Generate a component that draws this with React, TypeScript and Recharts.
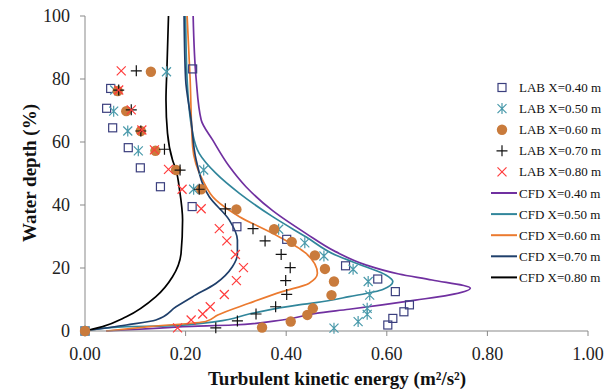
import React from "react";
import { ComposedChart, Line, Scatter, XAxis, YAxis, Legend } from "recharts";

type Pt = { x: number; y: number };
const toPts = (rows: number[][]): Pt[] => rows.map(([x, y]) => ({ x, y }));

// measured profiles: [tke, depth %]
const lab040 = toPts([
  [0, 0], [0.602, 1.9], [0.612, 4.0], [0.634, 6.1], [0.645, 8.3], [0.617, 12.5],
  [0.582, 16.5], [0.518, 20.7], [0.401, 29.1], [0.302, 33.1], [0.213, 39.5],
  [0.15, 45.8], [0.11, 51.8], [0.086, 58.2], [0.055, 64.5], [0.043, 70.7],
  [0.051, 77.0], [0.214, 83.2],
]);
const lab050 = toPts([
  [0, 0], [0.495, 0.9], [0.543, 3.0], [0.561, 5.3], [0.561, 7.2], [0.566, 11.4],
  [0.563, 15.7], [0.533, 19.6], [0.475, 23.8], [0.437, 28.0], [0.385, 32.3],
  [0.216, 45.0], [0.236, 51.1], [0.106, 57.2], [0.085, 63.5], [0.057, 69.8],
  [0.059, 76.5], [0.162, 82.3],
]);
const lab060 = toPts([
  [0, 0], [0.352, 1.1], [0.409, 3.0], [0.442, 5.1], [0.453, 7.2], [0.49, 11.4],
  [0.495, 15.7], [0.477, 19.7], [0.457, 24.0], [0.411, 28.3], [0.376, 32.3],
  [0.301, 38.6], [0.231, 45.0], [0.181, 51.1], [0.14, 57.2], [0.111, 63.5],
  [0.082, 69.8], [0.065, 76.2], [0.131, 82.3],
]);
const lab070 = toPts([
  [0.26, 1.0], [0.303, 3.2], [0.34, 5.4], [0.379, 7.7], [0.401, 11.6],
  [0.399, 16.0], [0.408, 20.1], [0.39, 24.3], [0.358, 28.6], [0.334, 32.5],
  [0.279, 38.8], [0.227, 45.0], [0.189, 51.1], [0.158, 57.7], [0.111, 63.5],
  [0.092, 70.2], [0.067, 76.5], [0.102, 82.6],
]);
const lab080 = toPts([
  [0.184, 1.0], [0.211, 3.5], [0.234, 5.4], [0.249, 7.7], [0.277, 11.6],
  [0.301, 16.0], [0.315, 20.1], [0.299, 24.3], [0.282, 28.6], [0.267, 32.5],
  [0.231, 38.8], [0.193, 45.0], [0.166, 51.3], [0.138, 57.5], [0.113, 63.8],
  [0.092, 70.2], [0.067, 76.5], [0.072, 82.6],
]);

// simulated profiles
const cfd040 = toPts([
  [0.042, 0], [0.148, 0.9], [0.194, 1.4], [0.293, 1.9], [0.392, 3.5], [0.459, 5.6],
  [0.525, 6.9], [0.591, 8.3], [0.657, 9.8], [0.723, 11.4], [0.766, 13.6],
  [0.69, 16.2], [0.624, 18.1], [0.558, 21.0], [0.498, 25.2], [0.439, 31.0],
  [0.373, 38.2], [0.32, 45.8], [0.287, 52.2], [0.254, 60.6], [0.231, 67.0],
  [0.221, 80], [0.215, 100],
]);
const cfd050 = toPts([
  [0, 0], [0.082, 1.4], [0.161, 1.6], [0.26, 3.0], [0.326, 5.4], [0.425, 8.3],
  [0.459, 9.0], [0.525, 10.9], [0.592, 13.2], [0.612, 15.7], [0.598, 17.8],
  [0.558, 20.4], [0.498, 24.1], [0.439, 29.9], [0.373, 36.3], [0.307, 43.7],
  [0.26, 50.1], [0.227, 56.4], [0.214, 62.8], [0.203, 80], [0.2, 100],
]);
const cfd060 = toPts([
  [0.042, 0], [0.128, 1.4], [0.24, 3.0], [0.264, 5.1], [0.326, 8.8], [0.392, 12.5],
  [0.445, 15.1], [0.462, 18.3], [0.439, 24.7], [0.373, 31.0], [0.307, 36.3],
  [0.26, 41.6], [0.234, 47.9], [0.214, 58.5], [0.209, 80], [0.203, 100],
]);
const cfd070 = toPts([
  [0, 0], [0.082, 1.9], [0.141, 3.5], [0.181, 7.7], [0.214, 10.9], [0.26, 15.1],
  [0.293, 20.4], [0.303, 24.5], [0.303, 28.9], [0.287, 35.2], [0.247, 42.6],
  [0.221, 54.3], [0.211, 67], [0.2, 80], [0.197, 100],
]);
const cfd080 = toPts([
  [0, 0], [0.035, 1.4], [0.082, 4.5], [0.141, 10.9], [0.174, 17.2], [0.191, 24.7],
  [0.194, 35.2], [0.188, 44.8], [0.181, 51.1], [0.174, 54.3], [0.164, 62.8],
  [0.161, 73.3], [0.163, 83.9], [0.166, 100],
]);

const xTicks = [0, 0.2, 0.4, 0.6, 0.8, 1];
const yTicks = [0, 20, 40, 60, 80, 100];

const FONT = "'Liberation Serif', 'Times New Roman', serif";
const AXIS = "#898989";

type Kind = "square" | "asterisk" | "circle" | "plus" | "cross";

const labSeries: { name: string; kind: Kind; color: string; data: Pt[] }[] = [
  { name: "LAB X=0.40 m", kind: "square", color: "#3b3f7e", data: lab040 },
  { name: "LAB X=0.50 m", kind: "asterisk", color: "#4a9aab", data: lab050 },
  { name: "LAB X=0.60 m", kind: "circle", color: "#c97b3c", data: lab060 },
  { name: "LAB X=0.70 m", kind: "plus", color: "#111111", data: lab070 },
  { name: "LAB X=0.80 m", kind: "cross", color: "#ff3c3c", data: lab080 },
];

const cfdSeries: { name: string; color: string; data: Pt[] }[] = [
  { name: "CFD X=0.40 m", color: "#7030a0", data: cfd040 },
  { name: "CFD X=0.50 m", color: "#31869b", data: cfd050 },
  { name: "CFD X=0.60 m", color: "#eb7a2f", data: cfd060 },
  { name: "CFD X=0.70 m", color: "#1f3f6b", data: cfd070 },
  { name: "CFD X=0.80 m", color: "#000000", data: cfd080 },
];

function Marker({ kind, cx, cy, color }: { kind: Kind; cx: number; cy: number; color: string }) {
  switch (kind) {
    case "square":
      return <rect x={cx - 4} y={cy - 4} width={8} height={8} fill="none" stroke={color} strokeWidth={1.2} />;
    case "asterisk":
      return (
        <path
          d={`M${cx - 4.5},${cy - 4.5}L${cx + 4.5},${cy + 4.5}M${cx - 4.5},${cy + 4.5}L${cx + 4.5},${cy - 4.5}M${cx},${cy - 5.5}L${cx},${cy + 5.5}`}
          stroke={color}
          strokeWidth={1.2}
          fill="none"
        />
      );
    case "circle":
      return <circle cx={cx} cy={cy} r={5.2} fill={color} />;
    case "plus":
      return (
        <path
          d={`M${cx - 5.5},${cy}L${cx + 5.5},${cy}M${cx},${cy - 5.5}L${cx},${cy + 5.5}`}
          stroke={color}
          strokeWidth={1.2}
        />
      );
    default:
      return (
        <path
          d={`M${cx - 4.5},${cy - 4.5}L${cx + 4.5},${cy + 4.5}M${cx - 4.5},${cy + 4.5}L${cx + 4.5},${cy - 4.5}`}
          stroke={color}
          strokeWidth={1.2}
        />
      );
  }
}

function LegendBox() {
  const rows = [
    ...labSeries.map((s) => ({ name: s.name, color: s.color, kind: s.kind as Kind | "line" })),
    ...cfdSeries.map((s) => ({ name: s.name, color: s.color, kind: "line" as Kind | "line" })),
  ];
  return (
    <svg width={130} height={215}>
      {rows.map((r, i) => {
        const cy = 10.5 + i * 21.1;
        return (
          <g key={r.name}>
            {r.kind === "line" ? (
              <line x1={6} x2={32} y1={cy} y2={cy} stroke={r.color} strokeWidth={2} />
            ) : (
              <Marker kind={r.kind} cx={17} cy={cy} color={r.color} />
            )}
            <text x={34} y={cy} dominantBaseline="central" fontFamily={FONT} fontSize={13} fill="#111">
              {r.name}
            </text>
          </g>
        );
      })}
    </svg>
  );
}

export default function App() {
  return (
    <div style={{ position: "absolute", left: 0, top: 0, background: "#fff" }}>
      <ComposedChart width={615} height={392} margin={{ top: 16, right: 27, bottom: 0, left: 0 }}>
        <XAxis
          type="number"
          dataKey="x"
          domain={[0, 1]}
          ticks={xTicks}
          tickFormatter={(v: number) => v.toFixed(2)}
          height={61}
          tickSize={5}
          tickMargin={11}
          stroke={AXIS}
          tick={{ fill: "#222", fontSize: 18, fontFamily: FONT }}
          label={{
            content: () => (
              <text x={337} y={385} textAnchor="middle" fontFamily={FONT} fontSize={19} fontWeight={700} fill="#111">
                Turbulent kinetic energy (m²/s²)
              </text>
            ),
          }}
        />
        <YAxis
          type="number"
          dataKey="y"
          domain={[0, 100]}
          ticks={yTicks}
          width={85}
          tickSize={5}
          tickMargin={10}
          stroke={AXIS}
          tick={{ fill: "#222", fontSize: 18, fontFamily: FONT }}
          label={{
            content: () => (
              <text
                x={29}
                y={173}
                transform="rotate(-90 29 173)"
                textAnchor="middle"
                dominantBaseline="central"
                fontFamily={FONT}
                fontSize={19}
                fontWeight={700}
                fill="#111"
              >
                Water depth (%)
              </text>
            ),
          }}
        />
        {cfdSeries.map((s) => (
          <Line
            key={s.name}
            name={s.name}
            data={s.data}
            dataKey="y"
            type="monotoneY"
            stroke={s.color}
            strokeWidth={1.7}
            dot={false}
            activeDot={false}
            isAnimationActive={false}
          />
        ))}
        {labSeries.map((s) => (
          <Scatter
            key={s.name}
            name={s.name}
            data={s.data}
            isAnimationActive={false}
            shape={(p: any) => <Marker kind={s.kind} cx={p.cx} cy={p.cy} color={s.color} />}
          />
        ))}
        <Legend
          layout="horizontal"
          verticalAlign="middle"
          align="center"
          wrapperStyle={{ position: "absolute", left: 485, top: 77, width: 130, height: 215 }}
          content={() => <LegendBox />}
        />
      </ComposedChart>
    </div>
  );
}
